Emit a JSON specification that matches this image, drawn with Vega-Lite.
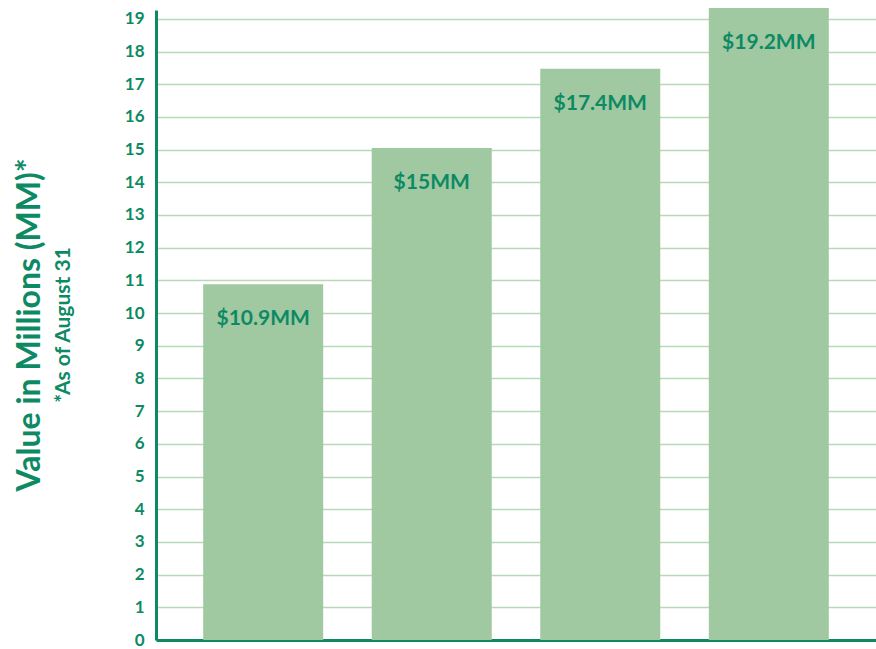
{
  "$schema": "https://vega.github.io/schema/vega-lite/v6.json",
  "width": 720,
  "height": 630,
  "autosize": {"type": "none"},
  "padding": {"left": 156, "top": 10, "right": 0, "bottom": 9},
  "background": "white",
  "config": {
    "view": {"stroke": null},
    "font": "Lato"
  },
  "title": {
    "text": "Value in Millions (MM)*",
    "subtitle": "*As of August 31",
    "orient": "left",
    "anchor": "middle",
    "font": "Lato",
    "fontSize": 32,
    "fontWeight": "bold",
    "color": "#0d8a64",
    "subtitleFont": "Lato",
    "subtitleFontSize": 21,
    "subtitleFontWeight": "bold",
    "subtitleColor": "#0d8a64",
    "subtitlePadding": 6,
    "offset": 49
  },
  "data": {
    "values": [
      {"period": "A", "value": 10.88, "label": "$10.9MM"},
      {"period": "B", "value": 15.05, "label": "$15MM"},
      {"period": "C", "value": 17.47, "label": "$17.4MM"},
      {"period": "D", "value": 19.33, "label": "$19.2MM"}
    ]
  },
  "encoding": {
    "x": {
      "field": "period",
      "type": "nominal",
      "sort": null,
      "scale": {"paddingInner": 0.288, "paddingOuter": 0.28},
      "axis": {
        "title": null,
        "labels": false,
        "ticks": false,
        "grid": false,
        "domain": true,
        "domainColor": "#0d8a64",
        "domainWidth": 3
      }
    },
    "y": {
      "field": "value",
      "type": "quantitative",
      "scale": {"domain": [0, 19.27], "nice": false},
      "axis": {
        "title": null,
        "values": [0,1,2,3,4,5,6,7,8,9,10,11,12,13,14,15,16,17,18,19],
        "grid": true,
        "gridColor": "#b8d9b8",
        "gridWidth": 1.5,
        "ticks": false,
        "domain": true,
        "domainColor": "#0d8a64",
        "domainWidth": 3,
        "labelFont": "Lato",
        "labelFontSize": 17,
        "labelFontWeight": "bold",
        "labelColor": "#0d8a64",
        "labelPadding": 12
      }
    }
  },
  "layer": [
    {
      "mark": {"type": "bar", "color": "#a0c8a1", "clip": false}
    },
    {
      "mark": {
        "type": "text",
        "baseline": "middle",
        "align": "center",
        "dy": 35,
        "font": "Lato",
        "fontSize": 21,
        "fontWeight": "bold",
        "color": "#0d8a64"
      },
      "encoding": {"text": {"field": "label"}}
    }
  ]
}
